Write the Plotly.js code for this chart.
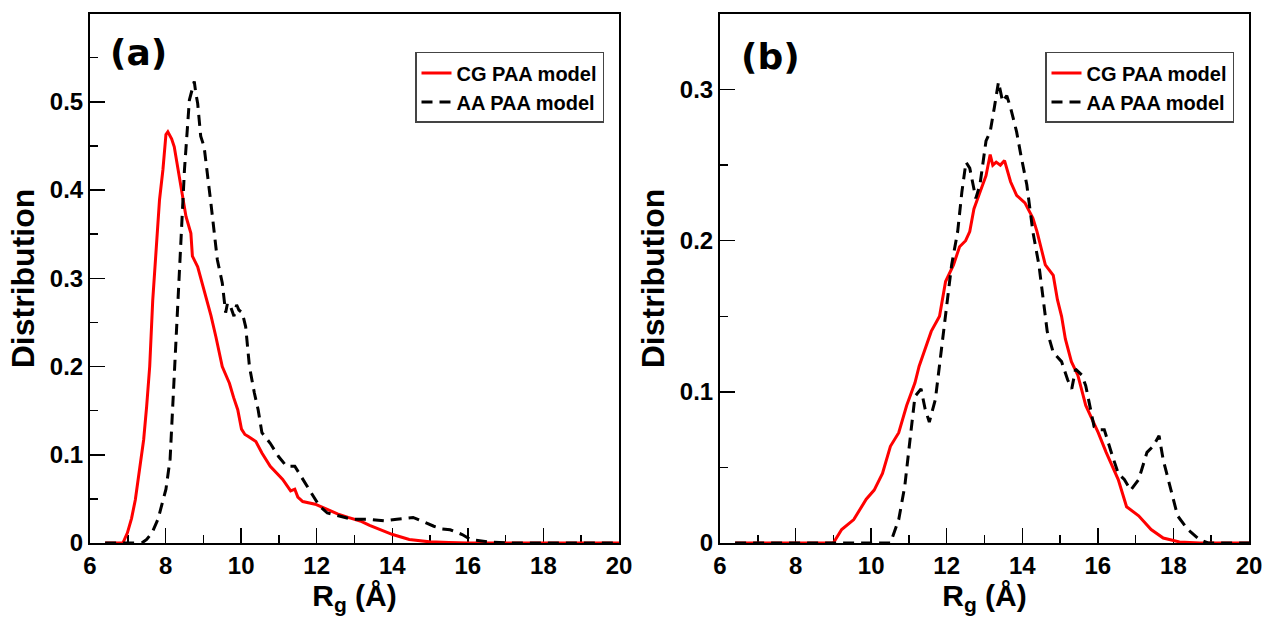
<!DOCTYPE html>
<html>
<head>
<meta charset="utf-8">
<script src="https://cdn.plot.ly/plotly-3.0.1.min.js"></script>
<style>html,body{margin:0;padding:0;background:#fff;}#chart{width:1267px;height:624px;}</style>
</head>
<body>
<div id="chart"></div>
<script>
// Panel (a)
const cgA_x = [6.4, 6.87, 6.99, 7.10, 7.20, 7.30, 7.42, 7.50, 7.58, 7.66, 7.75, 7.84, 7.93, 8.01, 8.06, 8.10, 8.16, 8.23, 8.32, 8.41, 8.54, 8.67, 8.71, 8.85, 9.00, 9.11, 9.20, 9.33, 9.50, 9.63, 9.69, 9.80, 9.91, 10.01, 10.10, 10.18, 10.39, 10.55, 10.77, 11.10, 11.31, 11.42, 11.50, 11.63, 11.96, 12.28, 12.55, 12.83, 13.15, 13.40, 13.58, 14.01, 14.45, 14.98, 15.5, 16.0, 20.0];
const cgA_y = [0, 0, 0.0115, 0.028, 0.049, 0.080, 0.117, 0.155, 0.200, 0.275, 0.330, 0.389, 0.423, 0.463, 0.466, 0.463, 0.458, 0.449, 0.425, 0.400, 0.370, 0.351, 0.325, 0.313, 0.290, 0.272, 0.258, 0.234, 0.200, 0.187, 0.181, 0.165, 0.151, 0.129, 0.123, 0.121, 0.115, 0.102, 0.087, 0.072, 0.059, 0.061, 0.052, 0.047, 0.044, 0.038, 0.033, 0.029, 0.025, 0.020, 0.017, 0.0096, 0.004, 0.0013, 0.0005, 0, 0];
const aaA_x = [6.4, 7.37, 7.50, 7.64, 7.80, 8.01, 8.12, 8.23, 8.32, 8.41, 8.50, 8.63, 8.70, 8.76, 8.80, 8.85, 8.93, 9.02, 9.20, 9.37, 9.50, 9.59, 9.64, 9.72, 9.81, 9.88, 9.94, 10.03, 10.12, 10.22, 10.35, 10.45, 10.55, 10.77, 10.99, 11.20, 11.42, 11.63, 11.85, 12.07, 12.28, 12.61, 12.93, 13.36, 13.80, 14.12, 14.55, 14.77, 15.10, 15.32, 15.53, 15.85, 16.07, 16.6, 17.2, 20.0];
const aaA_y = [0, 0, 0.004, 0.0115, 0.027, 0.061, 0.095, 0.190, 0.280, 0.351, 0.423, 0.502, 0.515, 0.523, 0.510, 0.498, 0.461, 0.449, 0.385, 0.321, 0.295, 0.261, 0.272, 0.268, 0.257, 0.270, 0.264, 0.261, 0.245, 0.200, 0.170, 0.151, 0.125, 0.113, 0.098, 0.087, 0.087, 0.072, 0.057, 0.042, 0.034, 0.030, 0.027, 0.027, 0.025, 0.027, 0.029, 0.025, 0.019, 0.016, 0.015, 0.0096, 0.004, 0.001, 0, 0];
// Panel (b)
const cgB_x = [6.4, 9.0, 9.22, 9.54, 9.87, 10.08, 10.30, 10.51, 10.73, 10.94, 11.16, 11.27, 11.59, 11.81, 11.97, 12.18, 12.34, 12.50, 12.61, 12.72, 12.88, 13.04, 13.15, 13.22, 13.31, 13.42, 13.53, 13.62, 13.69, 13.85, 14.07, 14.28, 14.39, 14.50, 14.61, 14.82, 14.93, 15.04, 15.14, 15.30, 15.47, 15.68, 16.01, 16.22, 16.54, 16.76, 17.08, 17.41, 17.73, 18.16, 18.70, 20.0];
const cgB_y = [0, 0, 0.0089, 0.0155, 0.029, 0.035, 0.046, 0.064, 0.073, 0.091, 0.106, 0.117, 0.140, 0.150, 0.173, 0.184, 0.196, 0.200, 0.206, 0.221, 0.232, 0.243, 0.257, 0.250, 0.252, 0.250, 0.253, 0.245, 0.239, 0.230, 0.225, 0.215, 0.206, 0.195, 0.184, 0.177, 0.161, 0.150, 0.135, 0.120, 0.111, 0.091, 0.073, 0.060, 0.042, 0.024, 0.018, 0.0089, 0.0033, 0.0007, 0, 0];
const aaB_x = [6.4, 10.51, 10.73, 10.89, 11.05, 11.16, 11.32, 11.43, 11.54, 11.70, 11.86, 12.02, 12.13, 12.29, 12.40, 12.51, 12.61, 12.77, 12.88, 13.04, 13.15, 13.26, 13.37, 13.48, 13.59, 13.69, 13.85, 13.96, 14.12, 14.28, 14.44, 14.55, 14.66, 14.82, 15.04, 15.20, 15.31, 15.41, 15.58, 15.68, 15.90, 16.01, 16.17, 16.38, 16.54, 16.70, 16.87, 17.08, 17.30, 17.46, 17.62, 17.73, 17.95, 18.11, 18.38, 18.70, 18.92, 20.0];
const aaB_y = [0, 0, 0.0155, 0.0376, 0.073, 0.097, 0.102, 0.0885, 0.080, 0.095, 0.128, 0.162, 0.184, 0.206, 0.232, 0.252, 0.248, 0.228, 0.237, 0.266, 0.272, 0.288, 0.305, 0.292, 0.296, 0.288, 0.272, 0.257, 0.237, 0.206, 0.184, 0.162, 0.140, 0.126, 0.120, 0.108, 0.102, 0.115, 0.111, 0.104, 0.077, 0.075, 0.075, 0.058, 0.046, 0.042, 0.035, 0.042, 0.060, 0.064, 0.071, 0.055, 0.033, 0.018, 0.009, 0.002, 0, 0];

const seriesNames = ['CG PAA model', 'AA PAA model'];
const panelLabels = ['(a)', '(b)'];
const xTitle = 'R<sub>g</sub> (Å)';
const yTitle = 'Distribution';

const FONT = 'Liberation Sans, Arial, sans-serif';
const redLine = {color: '#ff0000', width: 3};
const blackLine = {color: '#000000', width: 3, dash: '11px,7px'};

const traces = [
  {x: cgA_x, y: cgA_y, name: seriesNames[0], mode: 'lines', line: redLine, xaxis: 'x', yaxis: 'y', legend: 'legend'},
  {x: aaA_x, y: aaA_y, name: seriesNames[1], mode: 'lines', line: blackLine, xaxis: 'x', yaxis: 'y', legend: 'legend'},
  {x: cgB_x, y: cgB_y, name: seriesNames[0], mode: 'lines', line: redLine, xaxis: 'x2', yaxis: 'y2', legend: 'legend2'},
  {x: aaB_x, y: aaB_y, name: seriesNames[1], mode: 'lines', line: blackLine, xaxis: 'x2', yaxis: 'y2', legend: 'legend2'}
];

const tickFont = {family: FONT, size: 24, color: '#000', weight: 'bold'};
function xAxis(domain, anchor) {
  return {
    domain: domain, anchor: anchor, range: [6, 20], dtick: 2, tick0: 0,
    ticks: 'inside', ticklen: 15, tickwidth: 1.5, tickcolor: '#000',
    minor: {ticks: 'inside', dtick: 1, ticklen: 8, tickwidth: 1.5, tickcolor: '#000'},
    showline: true, linecolor: '#000', linewidth: 2, mirror: true,
    showgrid: false, zeroline: false, layer: 'below traces',
    tickfont: tickFont,
    title: {text: xTitle, font: {family: FONT, size: 30, color: '#000', weight: 'bold'}, standoff: 6}
  };
}
function yAxis(domain, anchor, top) {
  return {
    domain: domain, anchor: anchor, range: [0, top], dtick: 0.1, tick0: 0,
    ticks: 'inside', ticklen: 15, tickwidth: 1.5, tickcolor: '#000',
    minor: {ticks: 'inside', dtick: 0.05, ticklen: 8, tickwidth: 1.5, tickcolor: '#000'},
    showline: true, linecolor: '#000', linewidth: 2, mirror: true,
    showgrid: false, zeroline: false, layer: 'below traces',
    tickfont: tickFont,
    title: {text: yTitle, font: {family: FONT, size: 32, color: '#000', weight: 'bold'}, standoff: 6}
  };
}
const yDom = [0.1298, 0.9776];
const legendStyle = {
  font: {family: FONT, size: 20, color: '#000', weight: 'bold'},
  bordercolor: '#444', borderwidth: 1.5, bgcolor: '#fff',
  xanchor: 'right', yanchor: 'top', y: 0.9167, tracegroupgap: 0
};

const layout = {
  width: 1267, height: 624,
  margin: {l: 0, r: 0, t: 0, b: 0},
  paper_bgcolor: '#fff', plot_bgcolor: '#fff',
  showlegend: true,
  xaxis: xAxis([0.07103, 0.48856], 'y'),
  yaxis: yAxis(yDom, 'x', 0.5995),
  xaxis2: xAxis([0.56827, 0.98579], 'y2'),
  yaxis2: yAxis(yDom, 'x2', 0.35),
  legend: Object.assign({x: 604/1267}, legendStyle),
  legend2: Object.assign({x: 1234/1267}, legendStyle),
  annotations: [
    {text: panelLabels[0], xref: 'paper', yref: 'paper', x: 138.5/1267, y: 1 - 52/624, xanchor: 'center', yanchor: 'middle', showarrow: false, font: {family: 'DejaVu Sans', size: 36, color: '#000', weight: 'bold'}},
    {text: panelLabels[1], xref: 'paper', yref: 'paper', x: 770/1267, y: 1 - 56/624, xanchor: 'center', yanchor: 'middle', showarrow: false, font: {family: 'DejaVu Sans', size: 36, color: '#000', weight: 'bold'}}
  ]
};

Plotly.newPlot('chart', traces, layout, {staticPlot: true, displayModeBar: false});
</script>
</body>
</html>
